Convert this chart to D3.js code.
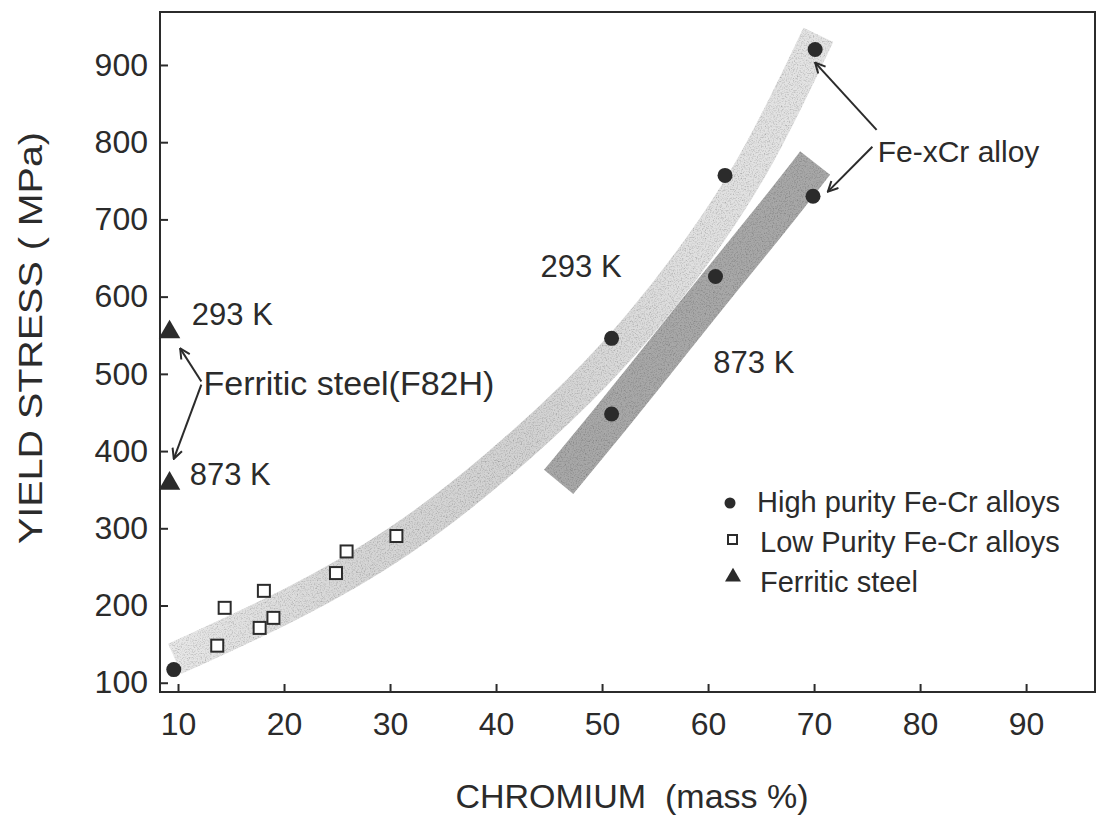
<!DOCTYPE html>
<head>
<meta charset="utf-8">
<style>
body { margin: 0; background: white; }
text { font-family: "Liberation Sans", Arial, sans-serif; fill: #2b2b2b; }
.frame { fill: none; stroke: #2b2b2b; stroke-width: 2px; }
.axis path { display: none; }
.axis line { stroke: #2b2b2b; stroke-width: 2px; }
.axis text { font-size: 32px; }
.arrow { stroke: #2b2b2b; stroke-width: 2px; fill: none; }
</style>
</head>
<body>
<div id="mainDiv" style="width: 1104px; height: 823px; background-color: white;">

<script src="https://d3js.org/d3.v7.min.js"></script>

<script>

var width = 1104;
var height = 823;

// high purity Fe-Cr alloys (filled circles)
var highX = [9.6, 50.9, 50.9, 61.6, 60.7, 70.1, 69.9];
var highY = [117, 546, 448, 757, 626, 920, 730];

// low purity Fe-Cr alloys (open squares)
var lowX = [13.7, 14.4, 18.1, 17.7, 19.0, 24.9, 25.9, 30.6];
var lowY = [148, 197, 219, 171, 184, 242, 270, 290];

// ferritic steel F82H (triangles): 293 K and 873 K
var steelX = [9.2, 9.2];
var steelY = [554, 358];

// centre lines of the two shaded scatter bands
var band293X = [9.7, 20.9, 30.9, 40.4, 48.2, 53.6, 59.3, 64.0, 67.7, 70.4];
var band293Y = [131, 201, 279, 382, 481, 562, 663, 761, 861, 939];
var band873X = [45.9, 51.5, 56.0, 61.3, 65.9, 70.1];
var band873Y = [360, 453, 531, 622, 699, 773];

var xTicks = [10, 20, 30, 40, 50, 60, 70, 80, 90];
var yTicks = [100, 200, 300, 400, 500, 600, 700, 800, 900];

var legendLabels = ["High purity Fe-Cr alloys", "Low Purity Fe-Cr alloys", "Ferritic steel"];

var plotL = 160, plotT = 12, plotR = 1095, plotB = 692;

var x = d3.scaleLinear().domain([8.3, 96.5]).range([plotL, plotR]);
var y = d3.scaleLinear().domain([88, 968.6]).range([plotB, plotT]);

var svg = d3.select("#mainDiv").append("svg")
    .attr("width", width)
    .attr("height", height);

var defs = svg.append("defs");

// speckled texture for the scanned-looking bands
var grain = defs.append("filter").attr("id", "grain")
    .attr("x", "-10%").attr("y", "-10%").attr("width", "120%").attr("height", "120%");
grain.append("feTurbulence").attr("type", "fractalNoise")
    .attr("baseFrequency", 0.75).attr("numOctaves", 2).attr("seed", 4).attr("result", "noise");
grain.append("feColorMatrix").attr("in", "noise").attr("type", "saturate").attr("values", 0).attr("result", "gray");
var ct = grain.append("feComponentTransfer").attr("in", "gray").attr("result", "spread");
["feFuncR", "feFuncG", "feFuncB"].forEach(function(f) {
  ct.append(f).attr("type", "linear").attr("slope", 1.3).attr("intercept", 0.3);
});
ct.append("feFuncA").attr("type", "linear").attr("slope", 0).attr("intercept", 1);
grain.append("feComposite").attr("in", "spread").attr("in2", "SourceGraphic").attr("operator", "in").attr("result", "masked");
grain.append("feBlend").attr("in", "SourceGraphic").attr("in2", "masked").attr("mode", "multiply");

// light band is paler at both ends
var g293 = defs.append("linearGradient").attr("id", "g293")
    .attr("gradientUnits", "userSpaceOnUse")
    .attr("x1", x(9)).attr("x2", x(71)).attr("y1", 0).attr("y2", 0);
[[0, "#e8e8e8"], [0.3, "#d6d6d6"], [0.55, "#d2d2d2"], [0.8, "#e0e0e0"], [1, "#e4e4e4"]].forEach(function(s) {
  g293.append("stop").attr("offset", s[0]).attr("stop-color", s[1]);
});

defs.append("marker")
    .attr("id", "head")
    .attr("viewBox", "0 0 12 12")
    .attr("refX", 11).attr("refY", 6)
    .attr("markerWidth", 12).attr("markerHeight", 12)
    .attr("markerUnits", "userSpaceOnUse")
    .attr("orient", "auto")
  .append("path")
    .attr("d", "M1,1 L11,6 L1,11")
    .attr("fill", "none")
    .attr("stroke", "#2b2b2b")
    .attr("stroke-width", 2);

var bandLine = d3.line()
    .x(function(d) { return x(d[0]); })
    .y(function(d) { return y(d[1]); })
    .curve(d3.curveBasis);

svg.append("path")
    .datum(d3.zip(band293X, band293Y))
    .attr("d", bandLine)
    .attr("fill", "none")
    .attr("stroke", "url(#g293)")
    .attr("stroke-width", 33)
    .attr("filter", "url(#grain)");

svg.append("path")
    .datum(d3.zip(band873X, band873Y))
    .attr("d", bandLine)
    .attr("fill", "none")
    .attr("stroke", "#a8a8a8")
    .attr("stroke-width", 38)
    .attr("filter", "url(#grain)");

// axes, ticks pointing inward
svg.append("g")
    .attr("class", "axis")
    .attr("transform", "translate(" + plotL + ",0)")
    .call(d3.axisLeft(y).tickValues(yTicks).tickSize(-8).tickPadding(12));

svg.append("g")
    .attr("class", "axis")
    .attr("transform", "translate(0," + plotB + ")")
    .call(d3.axisBottom(x).tickValues(xTicks).tickSize(-8).tickPadding(20));

svg.append("rect")
    .attr("class", "frame")
    .attr("x", plotL).attr("y", plotT)
    .attr("width", plotR - plotL).attr("height", plotB - plotT);

svg.append("text")
    .attr("transform", "translate(42,338)rotate(-90)")
    .attr("text-anchor", "middle")
    .attr("textLength", 412)
    .attr("lengthAdjust", "spacingAndGlyphs")
    .style("font-size", "34px")
    .text("YIELD STRESS ( MPa)");

svg.append("text")
    .attr("x", 632).attr("y", 808)
    .attr("text-anchor", "middle")
    .style("font-size", "34px")
    .style("white-space", "pre")
    .text("CHROMIUM  (mass %)");

// markers
svg.append("g").selectAll("circle")
    .data(d3.zip(highX, highY))
    .enter().append("circle")
    .attr("cx", function(d) { return x(d[0]); })
    .attr("cy", function(d) { return y(d[1]); })
    .attr("r", 7.5)
    .attr("fill", "#2b2b2b");

svg.append("g").selectAll("rect")
    .data(d3.zip(lowX, lowY))
    .enter().append("rect")
    .attr("x", function(d) { return x(d[0]) - 6; })
    .attr("y", function(d) { return y(d[1]) - 6; })
    .attr("width", 12).attr("height", 12)
    .attr("fill", "white")
    .attr("stroke", "#2b2b2b")
    .attr("stroke-width", 2);

var tri = d3.symbol().type(d3.symbolTriangle).size(200);
svg.append("g").selectAll("path")
    .data(d3.zip(steelX, steelY))
    .enter().append("path")
    .attr("transform", function(d) { return "translate(" + x(d[0]) + "," + y(d[1]) + ")"; })
    .attr("d", tri)
    .attr("fill", "#2b2b2b");

// annotations
function label(t, dx, dy, size) {
  svg.append("text")
      .attr("x", x(dx)).attr("y", y(dy))
      .style("font-size", size + "px")
      .text(t);
}
label("293 K", 11.3, 563, 31);
label("Ferritic steel(F82H)", 12.4, 473, 34);
label("873 K", 11.1, 356, 31);
label("293 K", 44.2, 626, 31);
label("873 K", 60.5, 501, 31);
label("Fe-xCr alloy", 76.0, 774, 30);

function arrow(x1, y1, x2, y2) {
  svg.append("line")
      .attr("class", "arrow")
      .attr("x1", x(x1)).attr("y1", y(y1))
      .attr("x2", x(x2)).attr("y2", y(y2))
      .attr("marker-end", "url(#head)");
}
arrow(12.2, 490, 10.2, 533);
arrow(12.2, 486, 9.6, 390);
arrow(75.9, 816, 70.1, 903);
arrow(75.5, 794, 71.3, 736);

// legend
var legend = svg.append("g").attr("transform", "translate(730,503)");
legend.append("circle").attr("cx", 0).attr("cy", 0).attr("r", 5.5).attr("fill", "#2b2b2b");
legend.append("rect").attr("x", -2).attr("y", 32).attr("width", 9).attr("height", 9)
    .attr("fill", "white").attr("stroke", "#2b2b2b").attr("stroke-width", 2);
legend.append("path").attr("transform", "translate(3,74)")
    .attr("d", d3.symbol().type(d3.symbolTriangle).size(110)).attr("fill", "#2b2b2b");
legend.selectAll("text.leg")
    .data(legendLabels)
    .enter().append("text")
    .attr("class", "leg")
    .attr("x", function(d, i) { return i == 0 ? 27 : 30; })
    .attr("y", function(d, i) { return 9 + i * 40; })
    .style("font-size", "29px")
    .text(function(d) { return d; });

</script>
</div>
</body>
</html>
